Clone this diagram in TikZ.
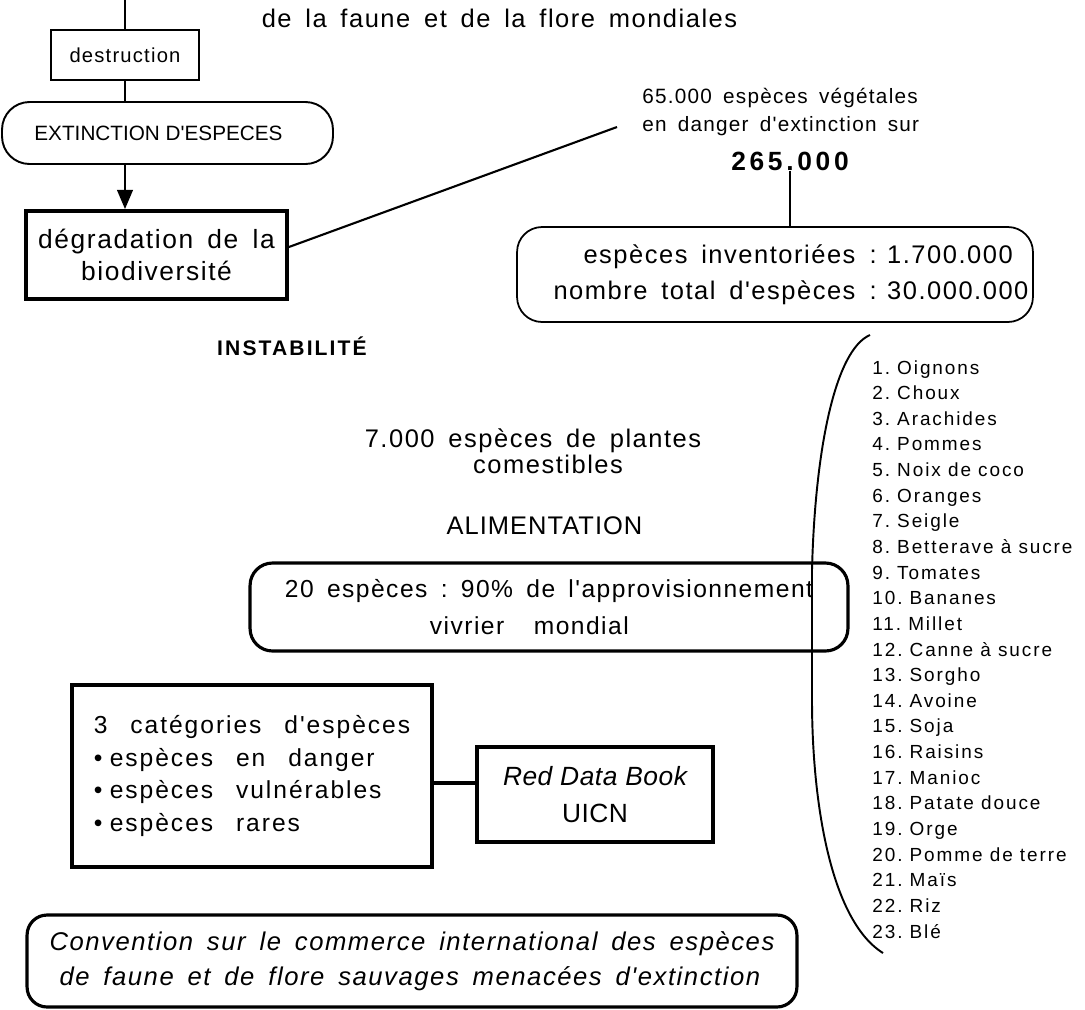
\documentclass[tikz,border=0pt]{standalone}
\usepackage{fontspec}
\setmainfont{Liberation Sans}[Ligatures=TeXOff]
\newfontfamily\espacee{Liberation Sans}[Ligatures=TeXOff, LetterSpace=6, WordSpace=1.6]
\newfontfamily\liste{Liberation Sans}[Ligatures=TeXOff, LetterSpace=10, WordSpace=1.6]
\newfontfamily\categ{Liberation Sans}[Ligatures=TeXOff, LetterSpace=8, WordSpace=2.6]
\newcommand\puce{•\hspace{0.3em}}
\usetikzlibrary{arrows.meta,positioning}

\tikzset{
  boite/.style={draw, line width=1pt, inner sep=0pt, align=center},
  grosse/.style={draw, line width=1.8pt, inner sep=0pt, align=center},
  texte/.style={inner sep=0pt, align=center},
  lien/.style={line width=1.2pt},
}

\begin{document}
\frenchspacing
\begin{tikzpicture}[x=0.02cm, y=-0.02cm]
  \useasboundingbox (0,0) rectangle (1085,1009);

  % Chaine de gauche
  \coordinate (haut) at (125,0);
  \node[boite, font=\fontsize{11.5}{12}\selectfont\espacee] (destruction) at (125,55)
    [minimum width=2.96cm, minimum height=1cm] {destruction};
  \node[boite, rounded corners=0.55cm, line width=1.1pt, font=\fontsize{11.8}{12}\selectfont]
    (extinction) at (167.5,133) [minimum width=6.62cm, minimum height=1.24cm] {\hspace*{-0.36cm}EXTINCTION D'ESPECES};
  \node[grosse, line width=2.2pt, font=\fontsize{15}{18.5}\selectfont\espacee] (degradation) at (156.5,255)
    [minimum width=5.22cm, minimum height=1.76cm] {dégradation de la\\ biodiversité};

  \draw[lien] (haut) -- (destruction.north);
  \draw[lien] (destruction.south) -- (destruction.south |- extinction.north);
  \draw[lien, -{Triangle[width=9pt,length=11pt]}] (destruction.south |- extinction.south)
    -- (destruction.south |- degradation.north);

  % Titre
  \node[texte, font=\fontsize{14.5}{17}\selectfont\espacee] (titre) at (499.5,18) {de la faune et de la flore mondiales};

  % Especes vegetales
  \node[texte, anchor=west, align=left, font=\fontsize{11.8}{16.4}\selectfont\espacee] (vegetales) at (642,112)
    {65.000 espèces végétales\\ en danger d'extinction sur};
  \coordinate (bout) at (617,127);
  \draw[lien] ([yshift=0.16cm]degradation.east) -- (bout);
  \node[texte, font=\fontsize{15}{17}\selectfont\bfseries\addfontfeature{LetterSpace=14}] (total) at (790,161) {265.000};
  \node[boite, rounded corners=0.5cm, font=\fontsize{14.5}{20}\selectfont\espacee] (stock) at (775,274.5)
    [minimum width=10.32cm, minimum height=1.9cm]
    {\hspace*{0.64cm}\begin{tabular}{@{}r@{\hspace{8pt}:\hspace{6pt}}l@{}}
       espèces inventoriées & 1.700.000\\
       nombre total d'espèces & 30.000.000
     \end{tabular}};
  \draw[lien, line width=0.9pt] (total.south) -- (total.south |- stock.north);

  % Instabilite et alimentation
  \node[texte, font=\fontsize{12}{14}\selectfont\bfseries\addfontfeature{LetterSpace=10}] (instabilite) at (292,346) {INSTABILITÉ};
  \node[texte, font=\fontsize{14.5}{14.5}\selectfont\espacee] (plantes) at (533,451)
    {7.000 espèces de plantes\\ \hspace*{0.6cm}comestibles};
  \node[texte, font=\fontsize{14.5}{17}\selectfont\addfontfeature{LetterSpace=4}] (alimentation) at (544.5,526) {ALIMENTATION};
  \node[grosse, rounded corners=0.45cm, align=left, font=\fontsize{14}{21}\selectfont\espacee] (vivrier) at (549,607)
    [minimum width=11.96cm, minimum height=1.76cm]
    {20 espèces : 90\% de l'approvisionnement\\ \hspace*{2.9cm}vivrier\hspace{1.2em}mondial};

  % Liste des 23 especes
  \draw[line width=1.1pt] (870,335) .. controls (835,350) and (815,450) .. (812,570)
    -- (812,700) .. controls (812,800) and (830,920) .. (883,953);
  \foreach \nom [count=\i] in {Oignons, Choux, Arachides, Pommes, Noix de coco, Oranges, Seigle,
      Betterave à sucre, Tomates, Bananes, Millet, Canne à sucre, Sorgho, Avoine, Soja, Raisins,
      Manioc, Patate douce, Orge, Pomme de terre, Maïs, Riz, Blé}
    \node[texte, anchor=base west, font=\fontsize{10.8}{12}\selectfont\liste]
      (item\i) at (872,{374+25.64*(\i-1)}) {\i. \nom};

  % Categories et UICN
  \node[grosse, align=left, font=\fontsize{14}{18.7}\selectfont\categ]
    (categories) at (252,776) [minimum width=7.2cm, minimum height=3.64cm]
    {3 catégories d'espèces\\ \puce espèces en danger\\ \puce espèces vulnérables\\ \puce espèces rares};
  \node[grosse, font=\fontsize{15}{21}\selectfont\addfontfeature{LetterSpace=2}] (uicn) at (595,794.5)
    [minimum width=4.72cm, minimum height=1.9cm] {\itshape Red Data Book\\ UICN};
  \draw[lien, line width=1.8pt] ([yshift=-0.14cm]categories.east) -- ([yshift=-0.14cm]categories.east -| uicn.west);

  % Convention
  \node[grosse, rounded corners=0.4cm, align=left, font=\fontsize{14.6}{20}\selectfont\itshape\espacee]
    (convention) at (412,961) [minimum width=15.4cm, minimum height=1.84cm]
    {Convention sur le commerce international des espèces\\
     \hspace*{0.2cm}de faune et de flore sauvages menacées d'extinction};
\end{tikzpicture}
\end{document}
